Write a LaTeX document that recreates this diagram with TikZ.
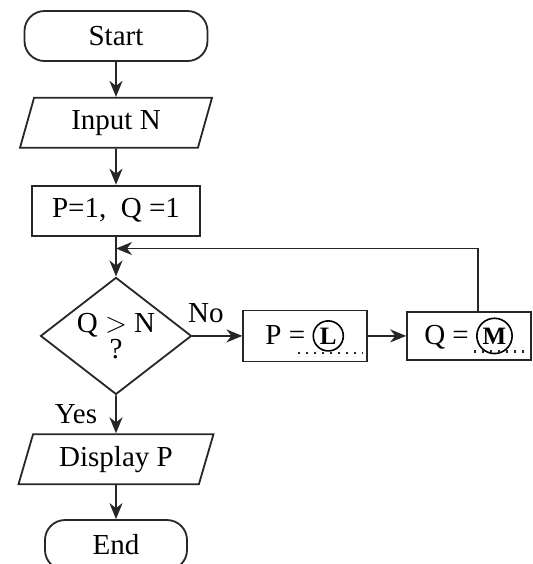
\documentclass[tikz,border=0pt]{standalone}
\usepackage{fontspec}
\setmainfont{Liberation Serif}
\usetikzlibrary{arrows.meta,positioning,shapes.geometric,calc}

\newcommand{\circled}[1]{\tikz[baseline=(ch.base)]\node[draw, circle,
  minimum width=0pt, minimum height=0pt, inner sep=1.2pt, line width=0.8pt,
  font=\fontsize{12.5}{12.5}\selectfont\bfseries] (ch) {#1};}

\begin{document}
\begin{tikzpicture}[
  x=0.5pt, y=-0.5pt,
  font=\fontsize{14.5}{16}\selectfont,
  line width=0.9pt, draw=black!85,
  term/.style={draw, rounded corners=10pt, align=center,
    inner sep=2pt, minimum height=25pt},
  io/.style={draw, trapezium, trapezium left angle=67, trapezium right angle=113,
    trapezium stretches body, inner sep=2pt, minimum height=25pt},
  proc/.style={draw, align=center, inner sep=2pt, minimum height=25pt},
  decide/.style={draw, diamond, aspect=1.3, inner sep=0pt, align=center,
    minimum width=75.5pt, minimum height=58.5pt},
  arr/.style={-{Stealth[length=8pt, width=6.5pt, inset=2.5pt]}, draw=black!85},
  lbl/.style={inner sep=1pt},
  dots/.style={line width=1.3pt, dash pattern=on 1pt off 3pt}
]
  \useasboundingbox (0,0) rectangle (532,564);

  % main column
  \node[term, minimum width=91.5pt] (start) at (116,36) {Start};
  \node[io, minimum width=96pt, below=17.5pt of start] (input) {Input N};
  \node[proc, minimum width=84pt, below=18pt of input] (init) {P=1,\ \ Q =1};
  \node[decide, below=20pt of init] (dec) {Q $>$ N\\[-3pt]?};
  \node[io, minimum width=97.5pt, below=19pt of dec] (disp) {Display P};
  \node[term, minimum width=71pt, below=17pt of disp] (stop) {End};

  % loop body
  \node[proc, minimum width=62pt, minimum height=25.5pt, right=25pt of dec] (pbox) {P = \circled{L}};
  \node[proc, minimum width=62pt, minimum height=24pt, right=19.5pt of pbox] (qbox) {Q = \circled{M}};
  \draw[dots] ($(pbox.south east)+(-69,-9)$) -- ($(pbox.south east)+(-4,-9)$);
  \draw[dots] ($(qbox.south east)+(-57,-9)$) -- ($(qbox.south east)+(-1,-9)$);

  \draw[arr] (start) -- (input);
  \draw[arr] (input) -- (init);
  \draw[arr] (init) -- (dec);
  \draw[arr] (dec) -- (disp) node[lbl, midway, left=8pt] {Yes};
  \draw[arr] (disp) -- (stop);
  \draw[arr] (dec.east) -- (pbox.west) node[lbl, pos=0.27, above=5pt] {No};
  \draw[arr] (pbox) -- (qbox);
  \draw[arr] ([xshift=4.5pt]qbox.north) |- ($(init.south)!0.3!(dec.north)$);
\end{tikzpicture}
\end{document}
